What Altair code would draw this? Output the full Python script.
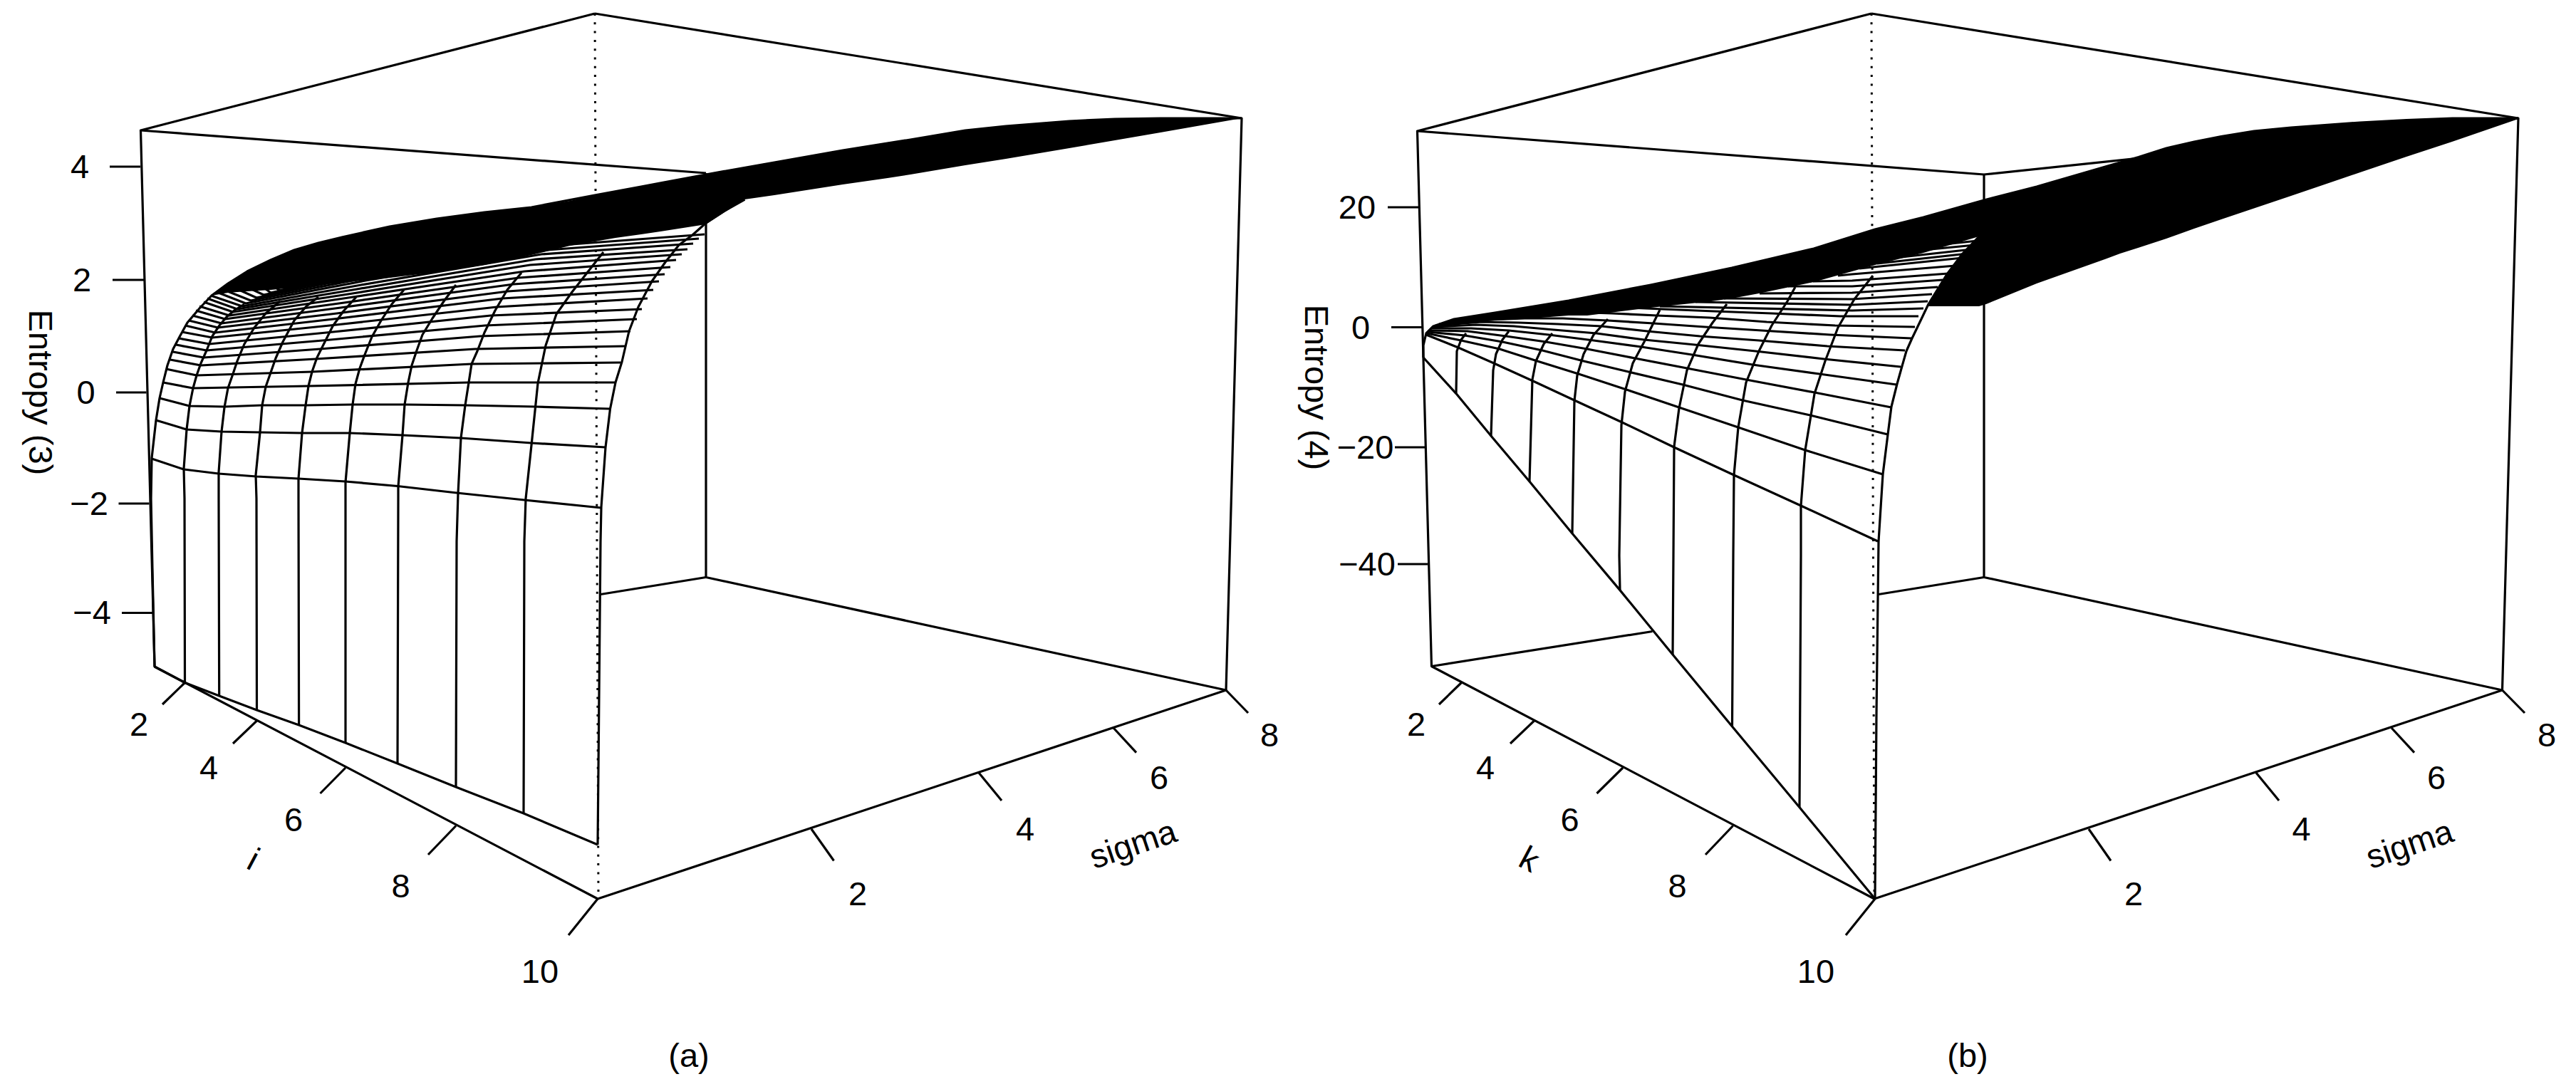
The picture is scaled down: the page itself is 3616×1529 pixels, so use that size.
import altair as alt
import pandas as pd

FONT = "Liberation Sans"

# ---------- panel (a): values, in picture pixels ----------
A_BOX = [
    [(835, 19), (197.5, 183), (991, 243)],
    [(835, 19), (1743, 166), (1721, 969), (991, 810.5), (991, 243)],
    [(197.5, 183), (217, 936), (839, 1262), (1721, 969)],
    [(843, 834.5), (991, 810.5)],
]
A_DOT = [(835, 19), (840, 1262)]
A_CURVES = [
    [(217, 936), (214, 800), (212, 700), (213, 643), (219, 590), (224, 559), (229, 537), (235, 513), (243, 490),
     (252, 473), (263, 453), (280, 433), (297, 415), (320, 398), (347, 381), (380, 365), (413, 351), (447, 341), (480, 333),
     (547, 318), (613, 307), (680, 298), (746, 291), (835, 274), (900, 262), (991, 245), (1087, 228), (1183, 211), (1278, 196),
     (1355, 183), (1412, 177), (1501, 170), (1565, 167), (1629, 166), (1743, 166)],
    [(259.5, 958.5), (259, 700), (258, 658), (262, 603), (266, 570), (271, 545), (276, 527), (282, 510), (290, 492),
     (298, 472), (308, 457), (318, 445), (330, 435), (343, 427)],
    [(307.7, 977), (307, 700), (307, 663), (311, 606), (315, 572), (320, 545), (327, 525), (333, 507), (343, 483),
     (357, 460), (373, 440), (393, 423)],
    [(360.5, 997), (360, 700), (359, 667), (365, 607), (368, 569), (373, 543), (380, 523), (387, 503), (397, 480),
     (413, 450), (430, 430), (447, 417)],
    [(419.6, 1018), (419, 700), (419, 672), (424, 608), (429, 569), (433, 542), (438, 522), (445, 502), (455, 482),
     (467, 458), (482, 437), (500, 417)],
    [(485, 1043), (485, 700), (485, 677), (491, 608), (495, 568), (499, 539), (505, 517), (512, 498), (522, 473),
     (535, 450), (550, 427), (567, 407)],
    [(558, 1072), (559, 700), (559, 683), (565, 611), (568, 568), (573, 537), (578, 513), (585, 492), (593, 470),
     (607, 447), (623, 423), (640, 400)],
    [(640, 1105), (641, 760), (643, 693), (647, 615), (653, 569), (658, 537), (662, 511), (670, 493), (680, 467),
     (695, 436), (712, 407), (732, 383)],
    [(735, 1142), (736, 760), (738, 700), (746, 625), (755, 538), (766, 485), (781, 441), (803, 410), (832, 373),
     (847, 354)],
    [(839, 1186), (843, 760), (844, 712), (850, 628), (856.5, 574), (864, 537), (873, 508), (883, 465), (896, 431),
     (915, 395), (934, 368), (953, 344), (972, 330), (991, 313), (1017, 296), (1045.5, 280)],
]
A_ROWS = [
    [(217, 936), (259.5, 958.5), (307.7, 977), (360.5, 997), (419.6, 1018), (485, 1043), (558, 1072), (640, 1105),
     (735, 1142), (839, 1186)],
    [(213, 644), (258, 659), (307, 665), (360, 669), (419, 672), (485, 676), (558, 682.5), (641, 692), (736, 702), (844, 713)],
    [(219, 590), (262, 603), (311, 606), (365, 607), (424, 608), (491, 608), (565, 611), (647, 615), (746, 622), (850, 628)],
    [(224, 559), (266, 570), (315, 571), (368, 569), (429, 569), (495, 568), (568, 568), (653, 569), (752, 571), (857, 574)],
    [(229, 537), (271, 545), (433, 542), (658, 537), (864, 537)],
    [(233, 518), (276, 527), (438, 522), (662, 511), (871, 509)],
    [(239, 505), (282, 513), (443, 504), (667, 490), (878, 486)],
    [(243, 494), (286, 502), (449, 490), (674, 472), (885, 465)],
    [(247, 484), (290, 492), (453, 478), (681, 457), (894, 448)],
    [(251, 475), (294, 483), (458, 467), (689, 443), (901, 434)],
    [(255, 466), (298, 474), (463, 457), (697, 431), (909, 419)],
    [(260, 457), (302, 467), (468, 448), (705, 419), (917, 407)],
    [(265, 450), (306, 460), (473, 440), (713, 409), (925, 395)],
    [(270, 443), (311, 454), (478, 432), (721, 399), (933, 385)],
    [(275, 436), (316, 448), (483, 425), (728, 390), (941, 375)],
    [(280, 430), (322, 443), (489, 418), (736, 381), (949, 365)],
    [(286, 424), (327, 438), (495, 412), (744, 372), (957, 357)],
    [(291, 419), (333, 434), (501, 406), (752, 364), (965, 350)],
    [(296, 415), (340, 430), (507, 400), (760, 357), (973, 342)],
    [(304, 410), (345, 426), (513, 394), (768, 351), (981, 335)],
    [(312, 406), (352, 422), (520, 389), (776, 345), (989, 329)],
    [(320, 400), (360, 418), (528, 384), (784, 340)],
    [(330, 395), (370, 414), (536, 379), (790, 337)],
    [(345, 385), (380, 411), (545, 375), (800, 334)],
    [(360, 376), (392, 408), (555, 371), (810, 331)],
]
A_BAND_X = [297, 320, 347, 380, 413, 447, 480, 547, 613, 680, 746, 800, 835, 864, 900, 927, 991, 1045, 1087, 1183, 1246, 1278, 1355, 1412, 1501, 1565, 1629, 1743]
A_BAND_TOP = [415, 398, 381, 365, 351, 341, 333, 318, 307, 298, 291, 282, 274, 269, 262, 257, 245, 235, 228, 211, 200, 196, 183, 177, 170, 167, 166, 166]
A_BAND_BOT = [415, 411, 409, 407, 404, 400, 397, 390, 382, 372, 358, 345, 339, 334, 329, 325, 315, 280, 274, 259, 250, 245, 232, 223, 208, 197, 186, 166]
A_TICKS = [
    [(154, 234), (197, 234)], [(158, 393), (202, 393)], [(163, 551), (205.5, 551)], [(166.5, 707), (209.5, 707)],
    [(171, 860.5), (214, 860.5)],
    [(259.5, 958.5), (228, 989)], [(360.5, 1012), (327, 1044)], [(485, 1078), (449.5, 1114)],
    [(640, 1159.5), (601, 1200)], [(839, 1262), (798, 1313)],
    [(1139, 1164), (1170.5, 1208.5)], [(1374, 1085), (1406, 1124)], [(1563, 1022), (1595, 1056.6)],
    [(1721, 969), (1752, 1001)],
]
A_TEXT = [
    ("4", 112, 236, 0), ("2", 115, 395, 0), ("0", 120.5, 553, 0), ("\u22122", 125, 709, 0), ("\u22124", 129, 862, 0),
    ("2", 195, 1019, 0), ("4", 293, 1080, 0), ("6", 412, 1153, 0), ("8", 562.6, 1246, 0), ("10", 758, 1366, 0),
    ("2", 1204, 1257, 0), ("4", 1439, 1166, 0), ("6", 1627, 1094, 0), ("8", 1782, 1034, 0),
    ("Entropy (3)", 54.5, 551, 90), ("i", 355, 1208, 28), ("sigma", 1591, 1187, 341.5), ("(a)", 967, 1484, 0),
]

# ---------- panel (b) ----------
B_BOX = [
    [(2627, 19), (1989.5, 184), (2785, 245), (3535, 166)],
    [(2627, 19), (3535, 166), (3512.5, 969), (2785, 810.5), (2785, 245)],
    [(1989.5, 184), (2009.5, 935.5), (2631, 1262), (3512.5, 969)],
    [(2009.5, 935.5), (2319.5, 886.5)],
    [(2637, 834.5), (2785, 810.5)],
]
B_DOT = [(2627, 19), (2631, 1262)]
B_CURVES = [
    [(1998, 502), (1998, 485), (2002, 468), (2012, 458), (2041, 448), (2098.5, 439), (2202, 422), (2317, 400), (2431, 376),
     (2546, 349), (2632, 322), (2700, 305), (2785, 281), (2859, 262), (2976, 228), (3002, 220.5), (3041, 208), (3080, 199),
     (3118, 191.5), (3164, 184), (3216, 179), (3313, 172), (3378, 168.7), (3442.5, 166), (3535, 166)],
    [(2044, 552.6), (2045, 493), (2051, 477), (2058, 468)],
    [(2093, 612), (2096, 520), (2100, 497), (2109, 477), (2118, 465)],
    [(2147, 676), (2151, 533), (2156, 507), (2167, 483), (2179, 468)],
    [(2207, 749), (2210, 563), (2214, 527), (2223, 497), (2237, 470), (2257, 448)],
    [(2274, 828.6), (2273, 780), (2276, 597), (2281, 550), (2292, 510), (2308, 480), (2330, 435)],
    [(2348, 919), (2349, 780), (2350, 627), (2357, 573), (2368, 520), (2384, 483), (2404, 453), (2424, 427)],
    [(2431.5, 1020), (2433, 780), (2434, 667), (2440, 600), (2451, 537), (2469, 493), (2487, 457), (2509, 423), (2520, 403)],
    [(2526, 1133.5), (2528, 780), (2528, 710), (2534, 632), (2547, 553), (2562, 507), (2580, 460), (2603, 420), (2629, 387)],
    [(2632, 1262), (2634, 1005), (2637, 760), (2643, 666), (2650, 610), (2655, 571), (2663, 539), (2670, 514), (2676, 493),
     (2684, 475), (2697, 448), (2707, 427), (2733, 385), (2755, 356), (2778, 332)],
]
B_ROWS = [
    [(1998, 502), (2044, 552.6), (2093, 612), (2147, 676), (2207, 749), (2274, 828.6), (2348, 919), (2431.5, 1020), (2526, 1133.5), (2632, 1262)],
    [(2002, 470), (2047, 488), (2097, 510), (2152, 535), (2210, 562), (2277, 593), (2350, 628), (2434, 667), (2528, 710), (2636, 760)],
    [(2003, 468), (2051, 478), (2105, 490), (2158, 507), (2219, 526), (2286, 548), (2357, 572), (2440, 600), (2534, 632), (2643, 666)],
    [(2005, 466), (2056, 471), (2109, 480), (2165, 492), (2223, 507), (2286, 522), (2362, 540), (2446, 562), (2541, 583), (2650, 610)],
    [(2007, 464), (2060, 465), (2114, 472), (2170, 480), (2228, 490), (2295, 503), (2368, 517), (2451, 533), (2547, 551), (2655, 572)],
    [(2010, 461), (2065, 461), (2118, 464), (2174, 470), (2237, 478), (2304, 487), (2375, 498), (2460, 512), (2554, 525), (2662, 540)],
    [(2012, 459), (2072, 456), (2125, 458), (2181, 463), (2241, 468), (2308, 477), (2379, 484), (2464, 493), (2560, 504), (2668, 515)],
    [(2015, 457), (2080, 452), (2132, 453), (2187, 455), (2248, 458), (2312, 465), (2386, 472), (2469, 478), (2565, 486), (2674, 492)],
    [(2020, 455), (2090, 449), (2140, 447), (2194, 447), (2257, 450), (2321, 454), (2393, 459), (2473, 464), (2569, 470), (2683, 475)],
    [(2040, 450), (2110, 443), (2201, 438), (2263, 440), (2326, 443), (2400, 446), (2480, 452), (2576, 457), (2688, 459)],
    [(2190, 432), (2268, 431), (2333, 434), (2406, 437), (2487, 440), (2583, 444), (2693, 444)],
    [(2330, 430), (2600, 436), (2700, 433)],
    [(2380, 424), (2600, 428), (2706, 423)],
    [(2420, 419), (2600, 420), (2712, 413)],
    [(2470, 412), (2600, 411), (2720, 403)],
    [(2510, 402), (2600, 402), (2727, 393)],
    [(2545, 395), (2600, 394), (2735, 384)],
    [(2580, 387), (2600, 385), (2745, 373)],
    [(2610, 377), (2755, 362)],
    [(2635, 370), (2762, 356)],
    [(2660, 362), (2768, 350)],
    [(2690, 352), (2772, 344)],
    [(2720, 344), (2776, 338)],
]
B_BAND_X = [2012, 2041, 2098, 2150, 2202, 2228, 2317, 2402, 2431, 2469, 2546, 2632, 2700, 2778, 2788, 2859, 2956, 2976, 3002, 3041, 3080, 3118, 3164, 3216, 3313, 3378, 3442, 3535]
B_BAND_TOP = [458, 448, 439, 431, 422, 418, 400, 382, 376, 367, 349, 322, 305, 283, 280, 262, 235, 228, 220.5, 208, 199, 191.5, 184, 179, 172, 168.7, 166, 166]
B_BAND_BOT = [462, 456, 450, 447, 443, 443, 432, 423, 419, 412, 396, 372, 355, 332, 427, 398, 363.5, 356, 347.7, 335, 321, 308, 292.4, 275, 242, 220, 199, 167]
B_WEDGE_X = [2707, 2733, 2755, 2778, 2788]
B_WEDGE_TOP = [427, 385, 356, 332, 330]
B_WEDGE_BOT = [430, 430, 430, 430, 427]
B_TICKS = [
    [(1948, 291), (1991, 291)], [(1953, 459.5), (1997, 459.5)], [(1958, 628), (2001, 628)], [(1962, 792), (2004, 792)],
    [(2051.4, 958.5), (2020, 989)], [(2153.6, 1012), (2120, 1044)], [(2278, 1078), (2241.5, 1114)],
    [(2432.6, 1159.5), (2394, 1200)], [(2632, 1262), (2591, 1313)],
    [(2932, 1164), (2963, 1208.5)], [(3167, 1085), (3199, 1124)], [(3357, 1022), (3389, 1056.6)],
    [(3512.5, 969), (3544, 1001)],
]
B_TEXT = [
    ("20", 1905, 293, 0), ("0", 1910, 462, 0), ("\u221220", 1916.5, 630, 0), ("\u221240", 1919, 794, 0),
    ("2", 1988, 1019, 0), ("4", 2085, 1080, 0), ("6", 2203.6, 1153, 0), ("8", 2354.5, 1246, 0), ("10", 2549, 1366, 0),
    ("2", 2995, 1257, 0), ("4", 3230.6, 1166, 0), ("6", 3420, 1094, 0), ("8", 3575, 1034, 0),
    ("Entropy (4)", 1846, 544, 90), ("k", 2146, 1208, 28), ("sigma", 3383, 1187, 341.5), ("(b)", 2762, 1484, 0),
]


def lines(groups, prefix):
    out = []
    for g, poly in enumerate(groups):
        for s, (x, y) in enumerate(poly):
            out.append({"x": x, "y": y, "g": f"{prefix}{g}", "s": s})
    return out


solid = (lines(A_BOX, "ab") + lines(A_CURVES, "ac") + lines(A_ROWS, "ar") + lines(A_TICKS, "at")
         + lines(B_BOX, "bb") + lines(B_CURVES, "bc") + lines(B_ROWS, "br") + lines(B_TICKS, "bt"))
dots = lines([A_DOT, B_DOT], "d")
bands = []
for name, xs, ts, bs in [("a", A_BAND_X, A_BAND_TOP, A_BAND_BOT), ("b", B_BAND_X, B_BAND_TOP, B_BAND_BOT),
                         ("w", B_WEDGE_X, B_WEDGE_TOP, B_WEDGE_BOT)]:
    bands += [{"x": x, "y": t, "y2": b, "g": name} for x, t, b in zip(xs, ts, bs)]
texts = [{"t": t, "x": x, "y": y, "a": a} for t, x, y, a in A_TEXT + B_TEXT]

X = alt.X("x:Q", axis=None, scale=alt.Scale(domain=[8, 3608], nice=False, zero=False))
Y = alt.Y("y:Q", axis=None, scale=alt.Scale(domain=[1521, 8], nice=False, zero=False))

dot_layer = alt.Chart(pd.DataFrame(dots)).mark_line(
    color="black", strokeWidth=3, strokeDash=[3, 9.3]
).encode(x=X, y=Y, detail="g:N", order="s:Q")

line_layer = alt.Chart(pd.DataFrame(solid)).mark_line(
    color="black", strokeWidth=3.2, strokeJoin="round"
).encode(x=X, y=Y, detail="g:N", order="s:Q")

band_layer = alt.Chart(pd.DataFrame(bands)).mark_area(
    color="black", opacity=1, orient="vertical"
).encode(x=X, y=Y, y2="y2:Q", detail="g:N")

text_layer = alt.Chart(pd.DataFrame(texts)).mark_text(
    font=FONT, fontSize=47, color="black", align="center", baseline="middle"
).encode(x=X, y=Y, text="t:N", angle=alt.Angle("a:Q", scale=None))

chart = alt.layer(dot_layer, line_layer, band_layer, text_layer).properties(
    width=3600, height=1513, padding=0, background="white"
).configure_view(stroke=None)

chart.save("out.html", embed_options={"renderer": "svg", "actions": False})
